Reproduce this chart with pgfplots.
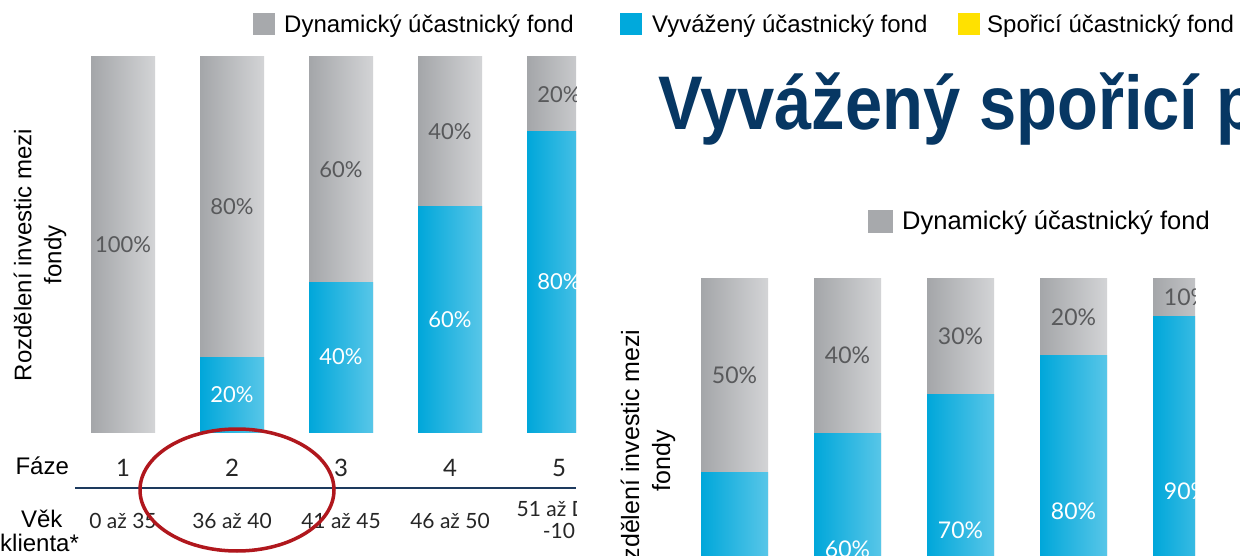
\documentclass[border=0pt]{standalone}
\usepackage{pgfplots}
\pgfplotsset{compat=1.18}
\usepackage{pgfplotstable}
\usepackage{fontspec}
\setmainfont{Liberation Sans}
\newfontfamily\numfont{Lato}
\newfontfamily\titlefont[FakeStretch=0.88]{Liberation Sans}

\definecolor{dyn}{HTML}{A7A9AC}
\definecolor{dynA}{HTML}{A4A6A9}
\definecolor{dynB}{HTML}{D3D4D6}
\definecolor{vyv}{HTML}{00A9DC}
\definecolor{vyvA}{HTML}{00A7DA}
\definecolor{vyvB}{HTML}{58C6E8}
\definecolor{spor}{HTML}{FFE100}
\definecolor{navy}{HTML}{073763}
\definecolor{rule}{HTML}{1D3A5E}
\definecolor{ring}{HTML}{B0171D}
\definecolor{pctgray}{HTML}{58595B}

% left chart: share of each fund by phase
\pgfplotstableread{
x blue gray
1 0 100
2 20 80
3 40 60
4 60 40
5 80 20
}\leftdata
% right chart
\pgfplotstableread{
x blue gray
1 50 50
2 60 40
3 70 30
4 80 20
5 90 10
}\rightdata

\pgfplotsset{
  panel/.style={scale only axis, xmin=0.5, xmax=5.5, ymin=0, ymax=100,
    enlargelimits=false, clip=false},
  graybar/.style={ybar, bar shift=0pt, bar width=#1, draw=none,
    left color=dynA, right color=dynB},
  bluebar/.style={ybar, bar shift=0pt, bar width=#1, draw=none,
    left color=vyvA, right color=vyvB},
  pct/.style={draw=none, mark=none, nodes near coords={\pgfplotspointmeta\%},
    point meta=explicit symbolic,
    every node near coord/.append style={anchor=center, inner sep=0pt,
      font=\numfont\fontsize{#1}{#1}\selectfont}},
  nozero/.style={y filter/.expression={y==0 ? nan : y}},
}

\begin{document}
\begin{tikzpicture}[x=1pt, y=1pt]
\useasboundingbox (0,0) rectangle (1240,555);
\clip (0,0) rectangle (1240,555);
\fill[white] (0,0) rectangle (1240,555);

% ---- left panel ----
\begin{scope}
\clip (0,0) rectangle (576,555);
\begin{axis}[panel, at={(68.5pt,123pt)}, anchor=south west,
    width=545pt, height=375pt,
    axis line style={draw=none}, major tick length=0pt, ytick=\empty,
    xtick={1,...,5}, xticklabels={1,2,3,4,5},
    xticklabel style={anchor=base, yshift=-44pt,
      font=\numfont\fontsize{24}{24}\selectfont, text=black!85},
    extra x ticks={1,...,5},
    extra x tick labels={0 až 35, 36 až 40, 41 až 45, 46 až 50,
      {\raisebox{-10pt}{\shortstack{51 až DV\\[3pt]-10}}}},
    extra x tick style={xticklabel style={yshift=-52pt,
      font=\numfont\fontsize{21}{21}\selectfont}},
  ]
  % one plot per bar so that every bar gets its own gradient
  \pgfplotsinvokeforeach{1,...,5}{
    \addplot[graybar=64pt, restrict x to domain=#1:#1]
      table[x=x, y expr=\thisrow{blue}+\thisrow{gray}] {\leftdata};
  }
  \pgfplotsinvokeforeach{2,...,5}{
    \addplot[bluebar=64pt, nozero, restrict x to domain=#1:#1]
      table[x=x, y=blue] {\leftdata};
  }
  \addplot[pct=22, every node near coord/.append style={text=pctgray}]
    table[x=x, y expr=\thisrow{blue}+\thisrow{gray}/2, meta=gray] {\leftdata};
  \addplot[pct=22, nozero, every node near coord/.append style={text=white}]
    table[x=x, y expr=\thisrow{blue}/2, meta=blue] {\leftdata};
\end{axis}
\draw[rule, line width=2pt] (75,67) -- (576,67);
\end{scope}

\node[rotate=90, align=center, font=\fontsize{24}{30}\selectfont] at (40,300)
  {Rozdělení investic mezi\\fondy};
\node[anchor=base west, font=\fontsize{24}{24}\selectfont] at (12,81) {Fáze};
\node[anchor=base east, font=\fontsize{24}{24}\selectfont] at (66,28) {Věk};
\node[anchor=base west, inner sep=0pt, font=\fontsize{24}{24}\selectfont] at (0,4) {klienta*};

\draw[ring, line width=3.5pt] (237,65) ellipse [x radius=97, y radius=61];

% ---- top legend ----
\fill[dyn] (253,520) rectangle (275,542);
\node[anchor=base west, inner sep=0pt, font=\fontsize{24}{24}\selectfont] at (284,522.5) {Dynamický účastnický fond};
\fill[vyv] (620,520) rectangle (642,542);
\node[anchor=base west, inner sep=0pt, font=\fontsize{24}{24}\selectfont] at (652,522.5) {Vyvážený účastnický fond};
\fill[spor] (958,520) rectangle (980,542);
\node[anchor=base west, inner sep=0pt, font=\fontsize{24}{24}\selectfont] at (987,522.5) {Spořicí účastnický fond};

% ---- right panel ----
\node[anchor=base west, inner sep=0pt, text=navy,
  font=\titlefont\bfseries\fontsize{76}{76}\selectfont] at (658,425) {Vyvážený spořicí profil};

\fill[dyn] (868,322) rectangle (893,345);
\node[anchor=base west, inner sep=0pt, font=\fontsize{25.5}{25.5}\selectfont] at (902,325) {Dynamický účastnický fond};

\node[rotate=90, align=center, font=\fontsize{25}{31}\selectfont] at (648,94)
  {Rozdělení investic mezi\\fondy};

\begin{scope}
\clip (590,0) rectangle (1195,555);
\begin{axis}[panel, hide axis, at={(678pt,-111pt)}, anchor=south west,
    width=565pt, height=388pt]
  \pgfplotsinvokeforeach{1,...,5}{
    \addplot[graybar=67pt, restrict x to domain=#1:#1]
      table[x=x, y expr=\thisrow{blue}+\thisrow{gray}] {\rightdata};
    \addplot[bluebar=67pt, restrict x to domain=#1:#1]
      table[x=x, y=blue] {\rightdata};
  }
  \addplot[pct=23, every node near coord/.append style={text=pctgray}]
    table[x=x, y expr=\thisrow{blue}+\thisrow{gray}/2, meta=gray] {\rightdata};
  \addplot[pct=23, every node near coord/.append style={text=white}]
    table[x=x, y expr=\thisrow{blue}/2, meta=blue] {\rightdata};
\end{axis}
\end{scope}
\end{tikzpicture}
\end{document}
